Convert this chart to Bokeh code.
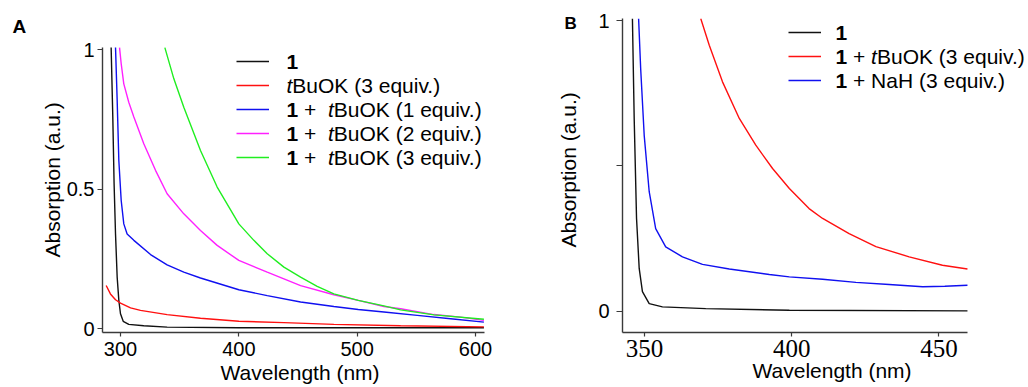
from bokeh.plotting import figure
from bokeh.layouts import row
from bokeh.models import Label, Legend, LegendItem, FixedTicker, Range1d, Title
from bokeh.core.properties import value
from bokeh.embed import file_html
from bokeh.resources import INLINE

# ---------------- data: panel A ----------------
A_black_x = [292.1, 293.5, 294.6, 295.8, 297.2, 298.6, 300.0, 302.3, 307.0, 319.7, 339.4, 400.0, 500.0, 607.1]
A_black_y = [1.008, 0.759, 0.52, 0.34, 0.185, 0.102, 0.054, 0.027, 0.016, 0.011, 0.006, 0.004, 0.004, 0.004]

A_red_x = [287.9, 291.5, 295.8, 300.0, 308.5, 316.9, 339.4, 367.6, 400.0, 438.1, 480.3, 536.7, 607.1]
A_red_y = [0.155, 0.125, 0.104, 0.092, 0.075, 0.066, 0.051, 0.038, 0.027, 0.022, 0.016, 0.011, 0.007]

A_blue_x = [295.8, 297.2, 298.6, 300.6, 302.8, 305.6, 311.3, 325.4, 339.4, 353.5, 367.6, 400.0, 424.0, 452.2, 480.3, 500.9, 522.6, 550.8, 579.0, 607.1]
A_blue_y = [1.008, 0.818, 0.603, 0.46, 0.376, 0.34, 0.317, 0.266, 0.229, 0.203, 0.182, 0.14, 0.119, 0.096, 0.080, 0.069, 0.060, 0.048, 0.036, 0.024]

A_mag_x = [299.2, 300.6, 302.8, 307.0, 311.3, 319.7, 329.6, 339.4, 353.5, 367.6, 381.7, 400.0, 424.0, 438.1, 452.2, 480.3, 500.9, 522.6, 536.7, 564.9, 587.4, 607.1]
A_mag_y = [1.008, 0.95, 0.878, 0.812, 0.759, 0.663, 0.568, 0.484, 0.412, 0.352, 0.299, 0.245, 0.203, 0.179, 0.155, 0.122, 0.102, 0.080, 0.072, 0.051, 0.042, 0.030]

A_green_x = [337.5, 345.1, 353.5, 367.6, 381.7, 400.0, 412.7, 424.0, 438.1, 452.2, 466.2, 480.3, 500.9, 522.6, 536.7, 564.9, 607.1]
A_green_y = [1.008, 0.896, 0.794, 0.639, 0.508, 0.376, 0.317, 0.269, 0.221, 0.185, 0.152, 0.125, 0.102, 0.082, 0.068, 0.050, 0.034]

A_xticks = [300, 400, 500, 600]
A_yticks = [0, 0.5, 1]
A_ytick_labels = ["0", "0.5", "1"]

# ---------------- data: panel B ----------------
B_black_x = [345.9, 346.5, 347.3, 348.2, 349.3, 351.6, 356.1, 370.8, 399.2, 459.7]
B_black_y = [1.007, 0.663, 0.319, 0.147, 0.067, 0.026, 0.015, 0.009, 0.003, 0.001]

B_red_x = [369.1, 372.0, 376.5, 382.2, 387.8, 393.5, 399.2, 405.9, 410.5, 419.5, 428.6, 439.9, 451.2, 459.7]
B_red_y = [1.007, 0.915, 0.789, 0.663, 0.571, 0.491, 0.422, 0.353, 0.319, 0.267, 0.222, 0.187, 0.158, 0.145]

B_blue_x = [348.0, 348.7, 349.9, 351.6, 353.8, 357.2, 362.9, 369.7, 378.8, 392.4, 399.2, 410.5, 421.8, 433.1, 444.5, 452.0, 459.7]
B_blue_y = [1.007, 0.835, 0.605, 0.411, 0.284, 0.221, 0.187, 0.161, 0.145, 0.126, 0.118, 0.110, 0.099, 0.092, 0.084, 0.086, 0.089]

B_xticks = [350, 400, 450]
B_yticks = [0, 0.5, 1]
B_ytick_labels = ["0", "", "1"]

SANS = "Liberation Sans"
SERIF = "Liberation Serif"

# ---------------- layout geometry (page pixels, page origin 0,0) ----------------
A_W, B_W, H = 518, 510, 387
A_frame = dict(l=102, r=484, t=18, b=332)
B_frame = dict(l=622, r=1028, t=18, b=332)
A_xr = (284.8, 607.6)
A_yr = (-0.01326, 1.1122)
A_ybounds = (-0.01326, 1.008)
B_xr = (342.53, 480.43)
B_xbounds = (342.53, 459.75)
B_yr = (-0.0733, 1.0069)


def make_fig(left_page, width, fr, xr, yr):
    p = figure(width=width, height=H, output_backend="svg", toolbar_location=None, title=None,
               x_range=Range1d(*xr), y_range=Range1d(*yr),
               min_border_left=fr["l"] - left_page,
               min_border_right=width - (fr["r"] - left_page),
               min_border_top=fr["t"],
               min_border_bottom=H - fr["b"])
    p.xgrid.visible = False
    p.ygrid.visible = False
    p.outline_line_color = None
    p.background_fill_color = "white"
    p.border_fill_color = "white"
    for ax in (p.xaxis[0], p.yaxis[0]):
        ax.axis_line_color = "#3a3a3a"
        ax.axis_line_width = 1.4
        ax.major_tick_line_color = "#3a3a3a"
        ax.major_tick_line_width = 1.2
        ax.major_tick_in = 0
        ax.minor_tick_line_color = None
        ax.major_label_text_color = "black"
    return p


def converter(fr, xr, yr):
    def f(px, py):
        x = xr[0] + (px - fr["l"]) / (fr["r"] - fr["l"]) * (xr[1] - xr[0])
        y = yr[1] - (py - fr["t"]) / (fr["b"] - fr["t"]) * (yr[1] - yr[0])
        return x, y
    return f


def add_text(p, conv, px, py, text, size, style="normal"):
    x, y = conv(px, py)
    p.add_layout(Label(x=x, y=y, text=text, text_font=SANS, text_font_size=f"{size}px",
                       text_font_style=style, text_align="left", text_baseline="middle",
                       text_color="black"))


def side_title(p, side, text, size, offset, standoff, style="normal", valign="bottom"):
    t = Title(text=text, align="left", offset=offset, standoff=standoff, vertical_align=valign,
              text_font=SANS, text_font_size=f"{size}px", text_font_style=style,
              text_color="black")
    p.add_layout(t, side)


lw = 1.4
C_BLACK, C_RED, C_BLUE, C_MAG, C_GREEN = "#111111", "#ff1010", "#1010f0", "#ff20ff", "#20ee20"

# ================= Panel A =================
pA = make_fig(0, A_W, A_frame, A_xr, A_yr)
convA = converter(A_frame, A_xr, A_yr)
rA = [
    pA.line(A_black_x, A_black_y, line_color=C_BLACK, line_width=lw),
    pA.line(A_red_x, A_red_y, line_color=C_RED, line_width=lw),
    pA.line(A_blue_x, A_blue_y, line_color=C_BLUE, line_width=lw),
    pA.line(A_mag_x, A_mag_y, line_color=C_MAG, line_width=lw),
    pA.line(A_green_x, A_green_y, line_color=C_GREEN, line_width=lw),
]
pA.xaxis.ticker = FixedTicker(ticks=A_xticks)
pA.yaxis.ticker = FixedTicker(ticks=A_yticks)
pA.yaxis.major_label_overrides = {t: s for t, s in zip(A_yticks, A_ytick_labels)}
pA.yaxis.bounds = A_ybounds
pA.xaxis.major_tick_out = 4
pA.yaxis.major_tick_out = 5
pA.xaxis.major_label_text_font = SANS
pA.yaxis.major_label_text_font = SANS
pA.xaxis.major_label_text_font_size = "20px"
pA.yaxis.major_label_text_font_size = "20px"
pA.xaxis.major_label_standoff = 5
pA.yaxis.major_label_standoff = 3
pA.yaxis.major_label_text_align = "center"

legA = Legend(items=[LegendItem(label=value(" "), renderers=[r]) for r in rA],
              location=(236 - A_frame["l"], A_frame["b"] - (49 + 5 * 24)),
              glyph_width=33, glyph_height=24, label_height=24, label_width=1,
              label_standoff=0, spacing=0, padding=0, margin=0,
              border_line_color=None, background_fill_alpha=0, label_text_font_size="1px")
pA.add_layout(legA)

em = 21
rowsA = [61, 85, 109, 133, 157]
tx = 286
add_text(pA, convA, tx, rowsA[0], "1", em, style="bold")
add_text(pA, convA, tx, rowsA[1], "t", em, style="italic")
add_text(pA, convA, tx + 0.278 * em, rowsA[1], "BuOK (3 equiv.)", em)
for rr, n in zip(rowsA[2:], ["1", "2", "3"]):
    add_text(pA, convA, tx, rr, "1", em, style="bold")
    add_text(pA, convA, tx + (0.556 + 0.278) * em, rr, "+", em)
    add_text(pA, convA, tx + (0.556 + 0.278 + 0.584 + 0.556) * em, rr, "t", em, style="italic")
    add_text(pA, convA, tx + (0.556 + 0.278 + 0.584 + 0.556 + 0.278) * em, rr, f"BuOK ({n} equiv.)", em)

side_title(pA, "above", "A", 19, offset=12 - A_frame["l"], standoff=-37, style="bold")
side_title(pA, "below", "Wavelength (nm)", 21, offset=220 - A_frame["l"], standoff=4, valign="top")
side_title(pA, "left", "Absorption (a.u.)", 21, offset=A_frame["b"] - 257, standoff=0)

# ================= Panel B =================
pB = make_fig(A_W, B_W, B_frame, B_xr, B_yr)
convB = converter(B_frame, B_xr, B_yr)
rB = [
    pB.line(B_black_x, B_black_y, line_color=C_BLACK, line_width=lw),
    pB.line(B_red_x, B_red_y, line_color=C_RED, line_width=lw),
    pB.line(B_blue_x, B_blue_y, line_color=C_BLUE, line_width=lw),
]
pB.xaxis.ticker = FixedTicker(ticks=B_xticks)
pB.yaxis.ticker = FixedTicker(ticks=B_yticks)
pB.yaxis.major_label_overrides = {t: s for t, s in zip(B_yticks, B_ytick_labels)}
pB.xaxis.bounds = B_xbounds
pB.xaxis.major_tick_out = 4
pB.yaxis.major_tick_out = 6
pB.xaxis.major_label_text_font = SERIF
pB.xaxis.major_label_text_font_size = "25px"
pB.yaxis.major_label_text_font = SANS
pB.yaxis.major_label_text_font_size = "20px"
pB.xaxis.major_label_standoff = 3
pB.yaxis.major_label_standoff = 7
pB.yaxis.major_label_text_align = "center"

legB = Legend(items=[LegendItem(label=value(" "), renderers=[r]) for r in rB],
              location=(788 - B_frame["l"], B_frame["b"] - (20 + 3 * 24)),
              glyph_width=33, glyph_height=24, label_height=24, label_width=1,
              label_standoff=0, spacing=0, padding=0, margin=0,
              border_line_color=None, background_fill_alpha=0, label_text_font_size="1px")
pB.add_layout(legB)

rowsB = [32, 56, 80]
tx = 835
add_text(pB, convB, tx, rowsB[0], "1", em, style="bold")
add_text(pB, convB, tx, rowsB[1], "1", em, style="bold")
add_text(pB, convB, tx + (0.556 + 0.278) * em, rowsB[1], "+", em)
add_text(pB, convB, tx + (0.556 + 0.278 + 0.584 + 0.278) * em, rowsB[1], "t", em, style="italic")
add_text(pB, convB, tx + (0.556 + 0.278 + 0.584 + 0.278 + 0.278) * em, rowsB[1], "BuOK (3 equiv.)", em)
add_text(pB, convB, tx, rowsB[2], "1", em, style="bold")
add_text(pB, convB, tx + (0.556 + 0.278) * em, rowsB[2], "+", em)
add_text(pB, convB, tx + (0.556 + 0.278 + 0.584 + 0.278) * em, rowsB[2], "NaH (3 equiv.)", em)

side_title(pB, "above", "B", 17, offset=564 - B_frame["l"], standoff=-28, style="bold")
side_title(pB, "below", "Wavelength (nm)", 21, offset=752 - B_frame["l"], standoff=-2, valign="top")
side_title(pB, "left", "Absorption (a.u.)", 21, offset=B_frame["b"] - 247, standoff=32)

layout = row(pA, pB)
open("out.html", "w").write(file_html(layout, INLINE))
